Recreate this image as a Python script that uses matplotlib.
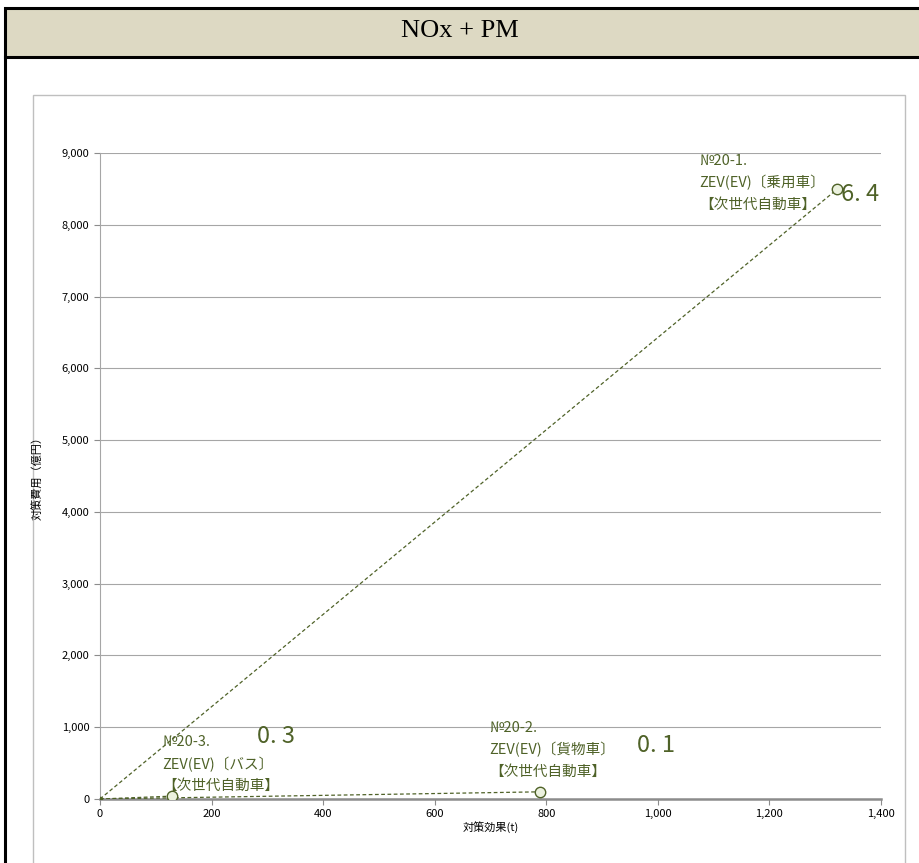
import matplotlib
matplotlib.use("Agg")
import matplotlib.pyplot as plt
from matplotlib.patches import Rectangle
from matplotlib.lines import Line2D
from matplotlib.ticker import FuncFormatter, MultipleLocator

plt.rcParams['font.family'] = ['Noto Sans CJK JP', 'DejaVu Sans']

# Measures: effect (t) vs cost (100 million yen)
labels = ["№20-1.\nZEV(EV)〔乗用車〕\n【次世代自動車】",
          "№20-2.\nZEV(EV)〔貨物車〕\n【次世代自動車】",
          "№20-3.\nZEV(EV)〔バス〕\n【次世代自動車】"]
effect = [1322, 789, 129]
cost = [8500, 100, 40]
ratio = ["6.4", "0.1", "0.3"]

title = "NOx + PM"
xlabel = "対策効果(t)"
ylabel = "対策費用（億円）"

# label / ratio offsets in pixels from each point (first label line centre)
label_off = [(-138, 28), (-51, 64), (-10, 54)]
ratio_off = [(4, -6), (97, 46), (85, 60)]
line_step = 22

W, H = 919, 863
fig = plt.figure(figsize=(W / 100, H / 100), dpi=100)

def fx(px):
    return px / W

def fy(py):
    return 1 - py / H

olive = "#4F6228"

# title band and outer frame
fig.patches.append(Rectangle((fx(5), fy(57)), fx(W + 10) - fx(5), fy(8) - fy(57),
                             transform=fig.transFigure, facecolor="#DDD9C3",
                             edgecolor="black", linewidth=2.2, zorder=-2))
fig.lines.append(Line2D([fx(5), fx(5)], [fy(57), fy(H + 5)], transform=fig.transFigure,
                        color="black", linewidth=2.2, zorder=-2))
fig.text(0.5, fy(31), title, ha="center", va="center", fontsize=19,
         family=["Liberation Serif"], color="black")

# chart area border
fig.patches.append(Rectangle((fx(33), fy(H + 5)), fx(905) - fx(33), fy(95) - fy(H + 5),
                             transform=fig.transFigure, facecolor="white",
                             edgecolor="#BFBFBF", linewidth=1.0, zorder=-1))

ax = fig.add_axes([fx(100), fy(799), fx(881) - fx(100), fy(153) - fy(799)])
ax.set_zorder(1)
ax.patch.set_alpha(0)
ax.set_xlim(0, 1400)
ax.set_ylim(0, 9000)
ax.xaxis.set_major_locator(MultipleLocator(200))
ax.yaxis.set_major_locator(MultipleLocator(1000))
fmt = FuncFormatter(lambda v, p: f"{int(v):,}")
ax.xaxis.set_major_formatter(fmt)
ax.yaxis.set_major_formatter(fmt)
ax.grid(axis="y", color="#A6A6A6", linewidth=0.8)
ax.set_axisbelow(True)
for s in ["top", "right"]:
    ax.spines[s].set_visible(False)
ax.spines["left"].set_color("#A6A6A6")
ax.spines["bottom"].set_color("#8C8C8C")
ax.spines["bottom"].set_linewidth(1.8)
ax.tick_params(axis="both", labelsize=8, colors="#8C8C8C", labelcolor="black", length=4)
ax.tick_params(axis="x", pad=3)
ax.set_xlabel(xlabel, fontsize=8, labelpad=2)
ax.set_ylabel(ylabel, fontsize=8, labelpad=14)

for x, y in zip(effect, cost):
    ax.plot([0, x], [0, y], linestyle=(0, (3, 2)), color=olive, linewidth=0.9, zorder=3)
ax.plot(effect, cost, linestyle="none", marker="o", markersize=7.5,
        markerfacecolor="#EBF1DE", markeredgecolor=olive, markeredgewidth=1.0, zorder=4)
ax.plot([0], [0], marker="o", markersize=3, color=olive, zorder=4)

for x, y, lab, r, lo, ro in zip(effect, cost, labels, ratio, label_off, ratio_off):
    for i, line in enumerate(lab.split("\n")):
        ax.annotate(line, (x, y), xytext=(lo[0], lo[1] - i * line_step),
                    textcoords="offset pixels", ha="left", va="center",
                    fontsize=10.5, color=olive, annotation_clip=False)
    ax.annotate(r.replace(".", ". "), (x, y), xytext=ro, textcoords="offset pixels",
                ha="left", va="center", fontsize=17, color=olive, annotation_clip=False)

fig.savefig("out.png", dpi=100)
